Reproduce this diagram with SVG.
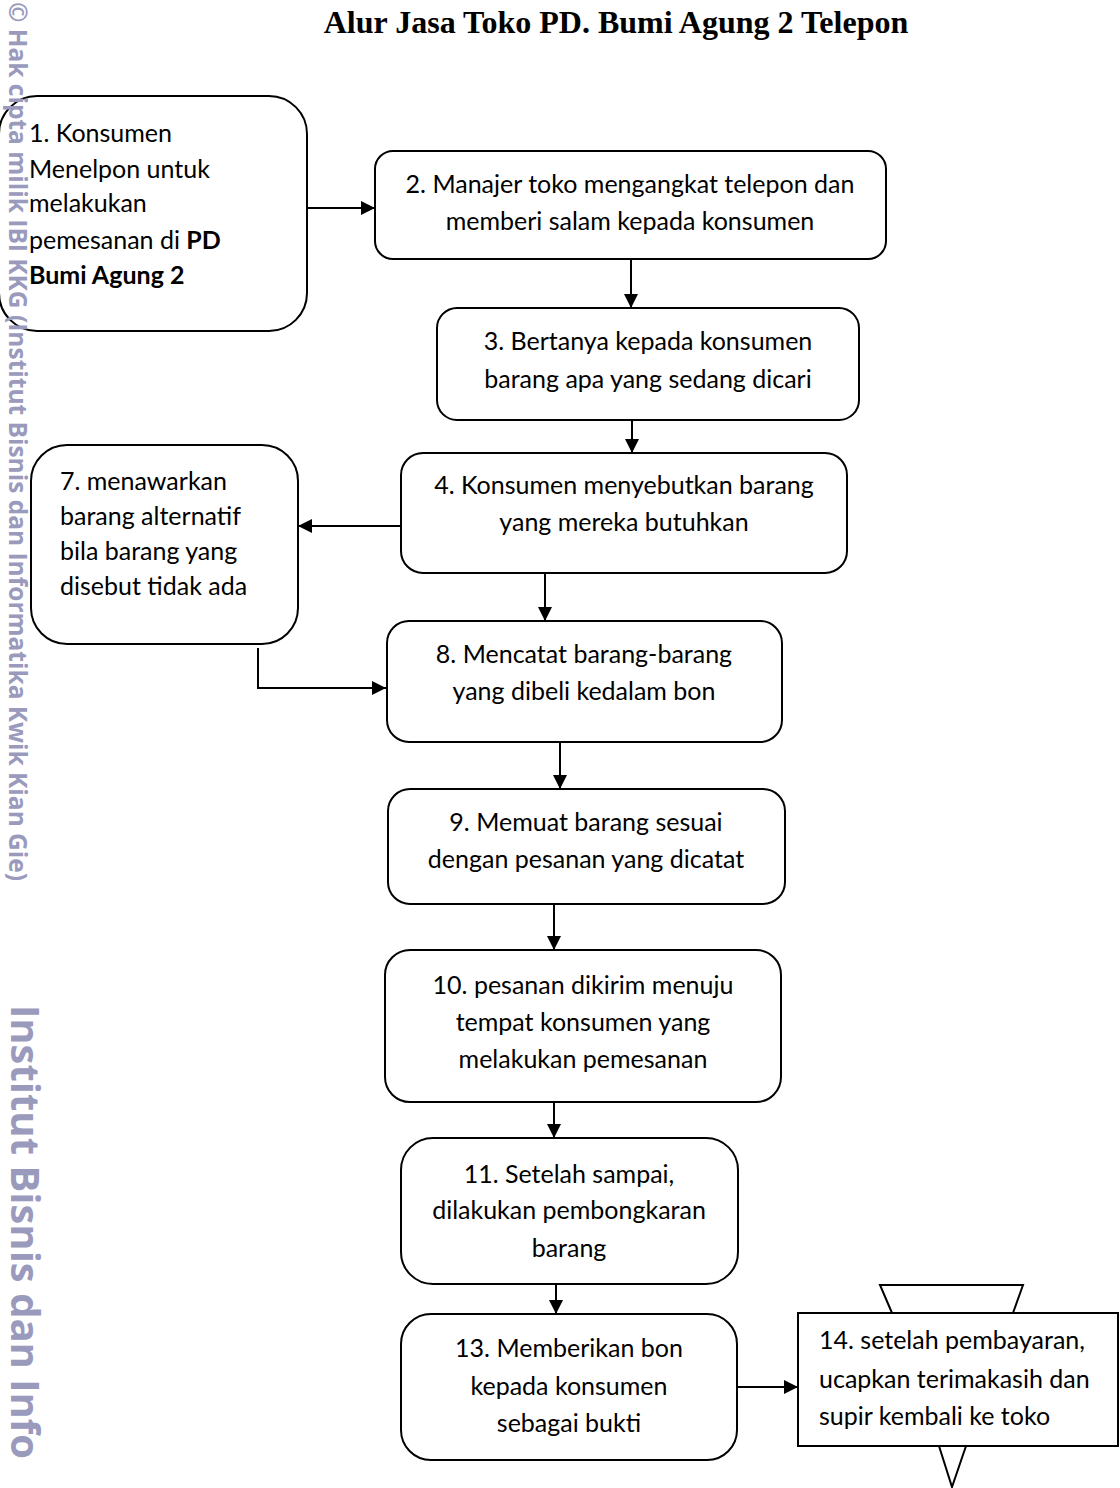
<svg xmlns="http://www.w3.org/2000/svg" width="1120" height="1488" viewBox="0 0 1120 1488">
<defs>
<style>
.box{fill:#fff;stroke:#000;stroke-width:2}
.t{font-family:Lato,"Open Sans","Liberation Sans",sans-serif;font-size:25px;fill:#000}
.c{text-anchor:middle}
.b{font-weight:bold}
.ln{fill:none;stroke:#000;stroke-width:2}
.wm{font-family:"Open Sans","DejaVu Sans",sans-serif;font-weight:bold;fill:#9a9abd}
.title{font-family:"Liberation Serif","Times New Roman",serif;font-weight:bold;font-size:32px;text-anchor:middle;fill:#000}
</style>
<marker id="ah" viewBox="0 0 10 10" refX="10" refY="5" markerWidth="7" markerHeight="7" markerUnits="strokeWidth" orient="auto">
<path d="M0,0 L10,5 L0,10 z" fill="#000"/>
</marker>
</defs>
<rect width="1120" height="1488" fill="#fff"/>
<text class="title" x="616" y="33">Alur Jasa Toko PD. Bumi Agung 2 Telepon</text>
<g id="connectors">
<line class="ln" x1="307" y1="208" x2="375" y2="208" marker-end="url(#ah)"/>
<line class="ln" x1="631" y1="259" x2="631" y2="308" marker-end="url(#ah)"/>
<line class="ln" x1="632" y1="420" x2="632" y2="453" marker-end="url(#ah)"/>
<line class="ln" x1="401" y1="526" x2="298" y2="526" marker-end="url(#ah)"/>
<line class="ln" x1="545" y1="573" x2="545" y2="621" marker-end="url(#ah)"/>
<polyline class="ln" points="258,648 258,688 386,688" marker-end="url(#ah)"/>
<line class="ln" x1="560" y1="742" x2="560" y2="789" marker-end="url(#ah)"/>
<line class="ln" x1="554" y1="904" x2="554" y2="950" marker-end="url(#ah)"/>
<line class="ln" x1="554" y1="1102" x2="554" y2="1138" marker-end="url(#ah)"/>
<line class="ln" x1="556" y1="1284" x2="556" y2="1314" marker-end="url(#ah)"/>
<line class="ln" x1="737" y1="1387" x2="798" y2="1387" marker-end="url(#ah)"/>
</g>
<g id="n1">
<rect class="box" x="-1" y="96" width="308" height="235" rx="38"/>
<text class="t"><tspan x="29" y="142">1. Konsumen</tspan><tspan x="29" y="178">Menelpon untuk</tspan><tspan x="29" y="212">melakukan</tspan><tspan x="29" y="249">pemesanan di <tspan class="b">PD</tspan></tspan><tspan x="29" y="284" class="b">Bumi Agung 2</tspan></text>
</g>
<g id="n2">
<rect class="box" x="375" y="151" width="511" height="108" rx="18"/>
<text class="t c"><tspan x="630" y="193">2. Manajer toko mengangkat telepon dan</tspan><tspan x="630" y="230">memberi salam kepada konsumen</tspan></text>
</g>
<g id="n3">
<rect class="box" x="437" y="308" width="422" height="112" rx="20"/>
<text class="t c"><tspan x="648" y="350">3. Bertanya kepada konsumen</tspan><tspan x="648" y="388">barang apa yang sedang dicari</tspan></text>
</g>
<g id="n4">
<rect class="box" x="401" y="453" width="446" height="120" rx="22"/>
<text class="t c"><tspan x="624" y="494">4. Konsumen menyebutkan barang</tspan><tspan x="624" y="531">yang mereka butuhkan</tspan></text>
</g>
<g id="n7">
<rect class="box" x="31" y="445" width="267" height="199" rx="36"/>
<text class="t"><tspan x="60" y="490">7. menawarkan</tspan><tspan x="60" y="525">barang alternatif</tspan><tspan x="60" y="560">bila barang yang</tspan><tspan x="60" y="595">disebut tidak ada</tspan></text>
</g>
<g id="n8">
<rect class="box" x="387" y="621" width="395" height="121" rx="22"/>
<text class="t c"><tspan x="584" y="663">8. Mencatat barang-barang</tspan><tspan x="584" y="700">yang dibeli kedalam bon</tspan></text>
</g>
<g id="n9">
<rect class="box" x="388" y="789" width="397" height="115" rx="22"/>
<text class="t c"><tspan x="586" y="831">9. Memuat barang sesuai</tspan><tspan x="586" y="868">dengan pesanan yang dicatat</tspan></text>
</g>
<g id="n10">
<rect class="box" x="385" y="950" width="396" height="152" rx="25"/>
<text class="t c"><tspan x="583" y="994">10. pesanan dikirim menuju</tspan><tspan x="583" y="1031">tempat konsumen yang</tspan><tspan x="583" y="1068">melakukan pemesanan</tspan></text>
</g>
<g id="n11">
<rect class="box" x="401" y="1138" width="337" height="146" rx="32"/>
<text class="t c"><tspan x="569" y="1183">11. Setelah sampai,</tspan><tspan x="569" y="1219">dilakukan pembongkaran</tspan><tspan x="569" y="1257">barang</tspan></text>
</g>
<g id="n13">
<rect class="box" x="401" y="1314" width="336" height="146" rx="30"/>
<text class="t c"><tspan x="569" y="1357">13. Memberikan bon</tspan><tspan x="569" y="1395">kepada konsumen</tspan><tspan x="569" y="1432">sebagai bukti</tspan></text>
</g>
<g id="n14">
<polyline class="ln" points="892,1313 880,1285 1023,1285 1013,1313"/>
<polyline class="ln" points="939,1446 952,1487 966,1446"/>
<rect class="box" x="798" y="1313" width="320" height="133"/>
<text class="t"><tspan x="819" y="1349">14. setelah pembayaran,</tspan><tspan x="819" y="1388">ucapkan terimakasih dan</tspan><tspan x="819" y="1425">supir kembali ke toko</tspan></text>
</g>
<g id="watermark">
<text class="wm" font-size="24.5" transform="translate(9,2) rotate(90)">© Hak cipta milik IBI KKG (Institut Bisnis dan Informatika Kwik Kian Gie)</text>
<text class="wm" font-size="40" transform="translate(11,1005) rotate(90)">Institut Bisnis dan Info</text>
</g>
</svg>
